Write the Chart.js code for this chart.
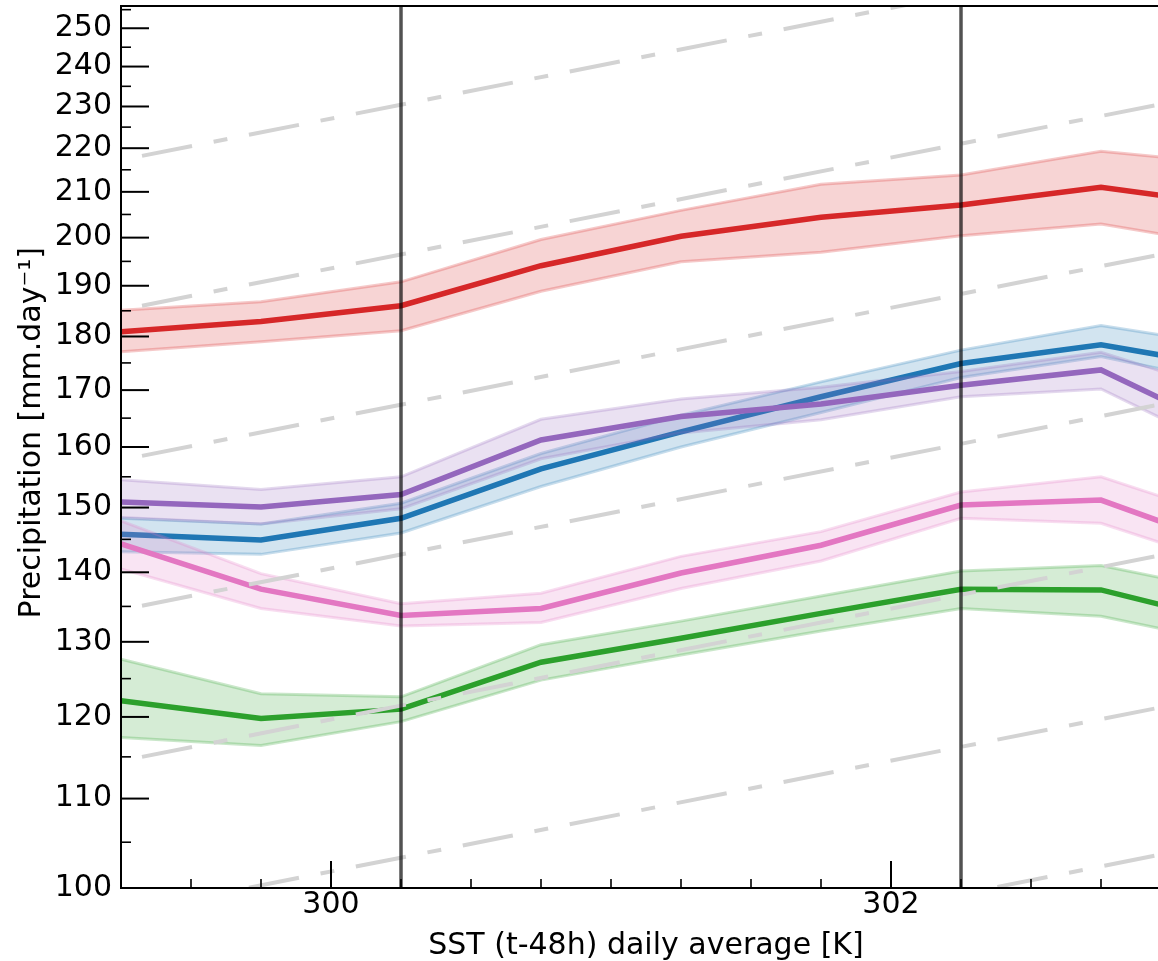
<!DOCTYPE html>
<html>
<head>
<meta charset="utf-8">
<script src="https://cdn.jsdelivr.net/npm/chart.js"></script>
<style>
  html, body { margin: 0; padding: 0; background: #fff; overflow: hidden; }
  #wrap { width: 1171px; height: 961px; }
</style>
</head>
<body>
<div id="wrap"><canvas id="chart" width="1171" height="961"></canvas></div>
<script>
// SST bins (K)
const sst = [299.25, 299.75, 300.25, 300.75, 301.25, 301.75, 302.25, 302.75, 303.25];

// mean precipitation and band edges per group (mm/day)
const redMean = [180.9, 182.9, 186.0, 194.1, 200.3, 204.4, 207.1, 211.0, 206.8];
const redHigh = [185.1, 186.8, 190.8, 199.6, 205.9, 211.7, 213.8, 219.3, 216.1];
const redLow  = [177.1, 179.0, 181.1, 188.9, 194.9, 196.9, 200.4, 202.9, 197.9];

const blueMean = [145.8, 144.9, 148.3, 156.3, 162.6, 168.8, 174.9, 178.4, 173.9];
const blueHigh = [148.3, 147.4, 150.7, 158.9, 165.5, 171.5, 177.4, 182.1, 177.9];
const blueLow  = [143.1, 142.7, 146.0, 153.4, 160.0, 166.0, 172.3, 176.2, 170.8];

const purpleMean = [150.9, 150.1, 152.1, 161.2, 165.3, 167.5, 170.9, 173.7, 161.7];
const purpleHigh = [154.5, 152.9, 155.0, 164.8, 168.4, 170.5, 173.4, 177.0, 168.9];
const purpleLow  = [148.4, 147.4, 149.8, 158.0, 162.4, 164.7, 168.8, 170.2, 158.3];

const pinkMean = [144.3, 137.5, 133.7, 134.7, 139.9, 144.1, 150.4, 151.2, 143.3];
const pinkHigh = [147.9, 139.8, 135.4, 136.9, 142.4, 146.2, 152.5, 155.0, 147.6];
const pinkLow  = [140.5, 134.7, 132.2, 132.7, 137.6, 141.7, 148.3, 147.5, 140.5];

const greenMean = [122.1, 119.8, 121.0, 127.2, 130.5, 134.0, 137.5, 137.4, 132.4];
const greenHigh = [127.6, 123.0, 122.6, 129.6, 132.9, 136.5, 140.2, 141.0, 136.8];
const greenLow  = [117.4, 116.4, 119.4, 124.8, 128.2, 131.5, 134.7, 133.6, 129.5];

// grey reference lines: start / end SST and values
const refX = [299.325, 303.25];
const refStart = [218.2, 186.0, 158.5, 135.1, 115.0, 97.8, 83.6];
const refEnd   = [275.0, 234.5, 199.8, 170.3, 145.0, 123.3, 105.4];

// vertical markers
const markerX = [300.25, 302.25];

// axis ticks
const xMajor = [300, 302];
const xMinor = [299.5, 299.75, 300.25, 300.5, 300.75, 301, 301.25, 301.5, 301.75, 302.25, 302.5, 302.75];
const yMajor = [100, 110, 120, 130, 140, 150, 160, 170, 180, 190, 200, 210, 220, 230, 240, 250];
const yMinor = [105, 115, 125, 135, 145, 155, 165, 175, 185, 195, 205, 215, 225, 235, 245, 255];

const X_MIN = 299.25, X_MAX = 303.0, Y_MIN = 100, Y_MAX = 256;

const pts = (xs, ys) => xs.map((x, i) => ({ x, y: ys[i] }));
const rgba = (hex, a) => {
    const n = parseInt(hex.slice(1), 16);
    return `rgba(${n >> 16},${(n >> 8) & 255},${n & 255},${a})`;
};

const groups = [
    { color: '#d62728', mean: redMean, high: redHigh, low: redLow },
    { color: '#1f77b4', mean: blueMean, high: blueHigh, low: blueLow },
    { color: '#9467bd', mean: purpleMean, high: purpleHigh, low: purpleLow },
    { color: '#e377c2', mean: pinkMean, high: pinkHigh, low: pinkLow },
    { color: '#2ca02c', mean: greenMean, high: greenHigh, low: greenLow }
];

const datasets = [];
let ord = 100;
groups.forEach(g => {
    const edge = { borderColor: rgba(g.color, 0.25), borderWidth: 3, pointRadius: 0, tension: 0 };
    datasets.push({ ...edge, data: pts(sst, g.low), fill: false, order: ord });
    datasets.push({ ...edge, data: pts(sst, g.high), fill: '-1', backgroundColor: rgba(g.color, 0.2), order: ord });
    ord--;
    datasets.push({ data: pts(sst, g.mean), borderColor: g.color, borderWidth: 5.5, pointRadius: 0, tension: 0, fill: false, order: ord });
    ord--;
});

refStart.forEach((v, i) => {
    datasets.push({
        data: pts(refX, [v, refEnd[i]]),
        borderColor: '#d3d3d3', borderWidth: 4, borderDash: [51, 22, 14, 22],
        borderCapStyle: 'butt', pointRadius: 0, fill: false, order: 2
    });
});

markerX.forEach(x => {
    datasets.push({
        data: pts([x, x], [Y_MIN, Y_MAX]),
        borderColor: 'rgba(0,0,0,0.68)', borderWidth: 3.5, pointRadius: 0, fill: false, order: 1
    });
});

// frame and inward ticks, placed through the chart scales
const axisDecor = {
    id: 'axisDecor',
    afterDraw(chart) {
        const { ctx, chartArea: { left, right, top, bottom }, scales: { x, y } } = chart;
        ctx.save();
        ctx.strokeStyle = '#000';
        ctx.lineWidth = 2;
        ctx.beginPath();
        ctx.moveTo(right, top); ctx.lineTo(left, top);
        ctx.lineTo(left, bottom); ctx.lineTo(right, bottom);
        ctx.stroke();

        const tick = (x1, y1, x2, y2, w) => {
            ctx.lineWidth = w;
            ctx.beginPath(); ctx.moveTo(x1, y1); ctx.lineTo(x2, y2); ctx.stroke();
        };
        xMajor.forEach(v => { const p = x.getPixelForValue(v); tick(p, bottom, p, bottom - 27, 2); });
        xMinor.forEach(v => { const p = x.getPixelForValue(v); tick(p, bottom, p, bottom - 9, 1.6); });
        yMajor.forEach(v => { const p = y.getPixelForValue(v); tick(left, p, left + 28, p, 2); });
        yMinor.forEach(v => { const p = y.getPixelForValue(v); tick(left, p, left + 10, p, 1.6); });
        ctx.restore();
    }
};

Chart.defaults.font.family = "'DejaVu Sans', sans-serif";
Chart.defaults.font.size = 30;
Chart.defaults.color = '#000';

new Chart(document.getElementById('chart'), {
    type: 'line',
    data: { datasets },
    plugins: [axisDecor],
    options: {
        responsive: false,
        animation: false,
        layout: { padding: { top: 6, right: 0, bottom: 0, left: 0 } },
        plugins: { legend: { display: false }, tooltip: { enabled: false } },
        scales: {
            x: {
                type: 'linear', min: X_MIN, max: X_MAX,
                grid: { display: false, drawTicks: false }, border: { display: false },
                ticks: { padding: -1, maxRotation: 0, includeBounds: false },
                afterBuildTicks: s => { s.ticks = xMajor.map(v => ({ value: v })); },
                afterFit: s => { s.height = 73; s.paddingLeft = 0; s.paddingRight = 0; },
                title: { display: true, text: 'SST (t-48h) daily average [K]', padding: { top: 0, bottom: -3 } }
            },
            y: {
                type: 'logarithmic', min: Y_MIN, max: Y_MAX,
                grid: { display: false, drawTicks: false }, border: { display: false },
                ticks: { padding: 9, callback: v => String(v) },
                afterBuildTicks: s => { s.ticks = yMajor.map(v => ({ value: v })); },
                afterFit: s => { s.width = 121; s.paddingTop = 0; s.paddingBottom = 0; },
                title: { display: true, text: '   Precipitation [mm.day⁻¹]', padding: { top: 14, bottom: 0 } }
            }
        }
    }
});
</script>
</body>
</html>
